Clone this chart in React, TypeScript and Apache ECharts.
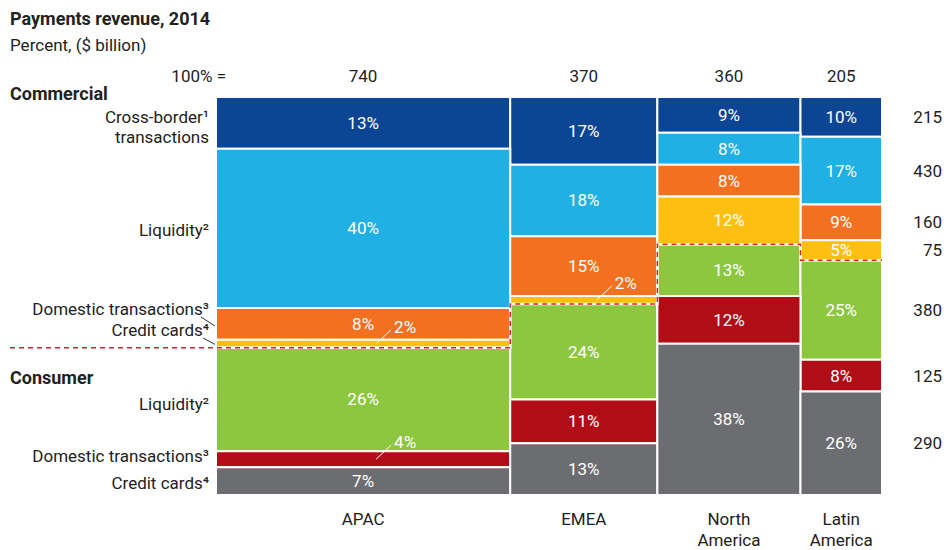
import React, { useEffect, useRef } from 'react';
import * as echarts from 'echarts';

const FONT = "'Roboto', 'Liberation Sans', sans-serif";

const regions = ['APAC', 'EMEA', 'North\nAmerica', 'Latin\nAmerica'];
const regionTotals = [740, 370, 360, 205];
const segmentNames = [
  'Commercial cross-border transactions',
  'Commercial liquidity',
  'Commercial domestic transactions',
  'Commercial credit cards',
  'Consumer liquidity',
  'Consumer domestic transactions',
  'Consumer credit cards',
];
const apacShares = [13, 40, 8, 2, 26, 4, 7];
const emeaShares = [17, 18, 15, 2, 24, 11, 13];
const northAmericaShares = [9, 8, 8, 12, 13, 12, 38];
const latinAmericaShares = [10, 17, 9, 5, 25, 8, 26];
const segmentTotals = [215, 430, 160, 75, 380, 125, 290];
const commercialSegmentCount = 4;
const segmentColors = ['#0c4594', '#20b0e4', '#f37021', '#fec010', '#8dc63f', '#b00d17', '#6c6d71'];
// [region index, segment index] whose percentage label sits outside the bar with a leader line
const calloutCells = [[0, 3], [0, 5], [1, 3]];

const sharesByRegion = [apacShares, emeaShares, northAmericaShares, latinAmericaShares];

export default function App() {
  const ref = useRef<HTMLDivElement>(null);
  useEffect(() => {
    if (!ref.current) return;
    const chart = echarts.init(ref.current, null, { renderer: 'svg' });

    const xStarts: number[] = [];
    let acc = 0;
    regionTotals.forEach((t) => { xStarts.push(acc); acc += t; });
    const grandTotal = acc;

    const isCallout = (r: number, s: number) => calloutCells.some(([a, b]) => a === r && b === s) ? 1 : 0;

    const segSeries = segmentNames.map((name, s) => {
      const data = regionTotals.map((t, r) => {
        const shares = sharesByRegion[r];
        let y0 = 0;
        for (let k = 0; k < s; k++) y0 += shares[k];
        return [xStarts[r], xStarts[r] + t, y0, y0 + shares[s], shares[s], isCallout(r, s)];
      });
      return {
        type: 'custom',
        name,
        data,
        encode: { x: [0, 1], y: [2, 3] },
        renderItem: (params: any, api: any) => {
          const x0 = api.value(0), x1 = api.value(1), y0 = api.value(2), y1 = api.value(3);
          const v = api.value(4), callout = api.value(5);
          const p0 = api.coord([x0, y0]);
          const p1 = api.coord([x1, y1]);
          const x = p0[0], y = p0[1], w = p1[0] - p0[0], h = p1[1] - p0[1];
          const cx = x + w / 2, cy = y + h / 2;
          const children: any[] = [
            { type: 'rect', shape: { x, y, width: w, height: h }, style: { fill: segmentColors[s], stroke: '#fff', lineWidth: 2 } },
          ];
          if (callout) {
            children.push({ type: 'line', shape: { x1: cx + 13, y1: cy, x2: cx + 28, y2: cy - 14 }, style: { stroke: '#fff', lineWidth: 1 } });
            children.push({ type: 'text', style: { text: v + '%', x: cx + 31, y: cy - 17, textAlign: 'left', textVerticalAlign: 'middle', fontSize: 17, fontFamily: FONT, fill: '#fff' } });
          } else {
            children.push({ type: 'text', style: { text: v + '%', x: cx, y: cy, textAlign: 'center', textVerticalAlign: 'middle', fontSize: 17, fontFamily: FONT, fill: '#fff' } });
          }
          return { type: 'group', children };
        },
        z: 2,
      };
    });

    // Commercial / consumer boundary
    const commercialShares = sharesByRegion.map((sh) => sh.slice(0, commercialSegmentCount).reduce((a, b) => a + b, 0));
    const boundarySeries = {
      type: 'custom',
      name: 'boundary',
      data: [[0, commercialShares[0]]],
      z: 5,
      renderItem: (params: any, api: any) => {
        const pts: number[][] = [];
        const first = api.coord([0, commercialShares[0]]);
        pts.push([10, first[1]]);
        regionTotals.forEach((t, r) => {
          pts.push(api.coord([xStarts[r], commercialShares[r]]));
          pts.push(api.coord([xStarts[r] + t, commercialShares[r]]));
        });
        return {
          type: 'group',
          children: [
            { type: 'polyline', shape: { points: pts }, style: { stroke: '#fff', lineWidth: 2.5, fill: null } },
            { type: 'polyline', shape: { points: pts }, style: { stroke: '#d3202f', lineWidth: 1.5, lineDash: [5, 4], fill: null } },
          ],
        };
      },
    };

    // Region names and totals
    const regionLabelSeries = {
      type: 'custom',
      name: 'regionLabels',
      data: regionTotals.map((t, r) => [xStarts[r] + t / 2, r, t]),
      z: 3,
      renderItem: (params: any, api: any) => {
        const cxv = api.value(0), r = api.value(1), t = api.value(2);
        const bottom = api.coord([cxv, 100]);
        const top = api.coord([cxv, 0]);
        return {
          type: 'group',
          children: [
            { type: 'text', style: { text: regions[r], x: bottom[0], y: bottom[1] + 13, textAlign: 'center', textVerticalAlign: 'top', fontSize: 17, lineHeight: 21, fontFamily: FONT, fill: '#222' } },
            { type: 'text', style: { text: String(t), x: top[0], y: top[1] - 21, textAlign: 'center', textVerticalAlign: 'middle', fontSize: 17, fontFamily: FONT, fill: '#222' } },
          ],
        };
      },
    };

    // Segment totals at right, aligned with last column's segments
    const lastShares = sharesByRegion[sharesByRegion.length - 1];
    const segTotalSeries = {
      type: 'custom',
      name: 'segmentTotals',
      data: segmentTotals.map((t, s) => {
        let y0 = 0;
        for (let k = 0; k < s; k++) y0 += lastShares[k];
        return [grandTotal, y0 + lastShares[s] / 2, t];
      }),
      z: 3,
      renderItem: (params: any, api: any) => {
        const p = api.coord([api.value(0), api.value(1)]);
        return { type: 'text', style: { text: String(api.value(2)), x: p[0] + 60, y: p[1], textAlign: 'right', textVerticalAlign: 'middle', fontSize: 17, fontFamily: FONT, fill: '#222' } };
      },
    };

    const txt = (text: string, x: number, y: number, align: string, opts: any = {}) => ({
      type: 'text',
      style: { text, x, y, textAlign: align, textVerticalAlign: 'middle', fontSize: 17, fontFamily: FONT, fill: '#222', ...opts },
    });

    chart.setOption({
      animation: false,
      grid: { left: 216, right: 66, top: 97, bottom: 55 },
      xAxis: { type: 'value', min: 0, max: grandTotal, show: false },
      yAxis: { type: 'value', min: 0, max: 100, inverse: true, show: false },
      graphic: [
        txt('Payments revenue, 2014', 10, 18, 'left', { fontWeight: 'bold', fontSize: 18 }),
        txt('Percent, ($ billion)', 10, 45, 'left'),
        txt('100% =', 226, 76, 'right'),
        txt('Commercial', 10, 93, 'left', { fontWeight: 'bold', fontSize: 18 }),
        txt('Cross-border\u00b9', 209, 117, 'right'),
        txt('transactions', 209, 137, 'right'),
        txt('Liquidity\u00b2', 209, 230, 'right'),
        txt('Domestic transactions\u00b3', 209, 309, 'right'),
        txt('Credit cards\u2074', 209, 330, 'right'),
        txt('Consumer', 10, 377, 'left', { fontWeight: 'bold', fontSize: 18 }),
        txt('Liquidity\u00b2', 209, 404, 'right'),
        txt('Domestic transactions\u00b3', 209, 456, 'right'),
        txt('Credit cards\u2074', 209, 483, 'right'),
        { type: 'line', shape: { x1: 201, y1: 317, x2: 218, y2: 328 }, style: { stroke: '#333', lineWidth: 1 } },
        { type: 'line', shape: { x1: 203, y1: 338, x2: 218, y2: 346 }, style: { stroke: '#333', lineWidth: 1 } },
      ],
      series: [...segSeries, boundarySeries, regionLabelSeries, segTotalSeries],
    } as any);

    return () => chart.dispose();
  }, []);

  return <div ref={ref} style={{ width: 948, height: 550, position: 'absolute', left: 0, top: 0 }} />;
}
